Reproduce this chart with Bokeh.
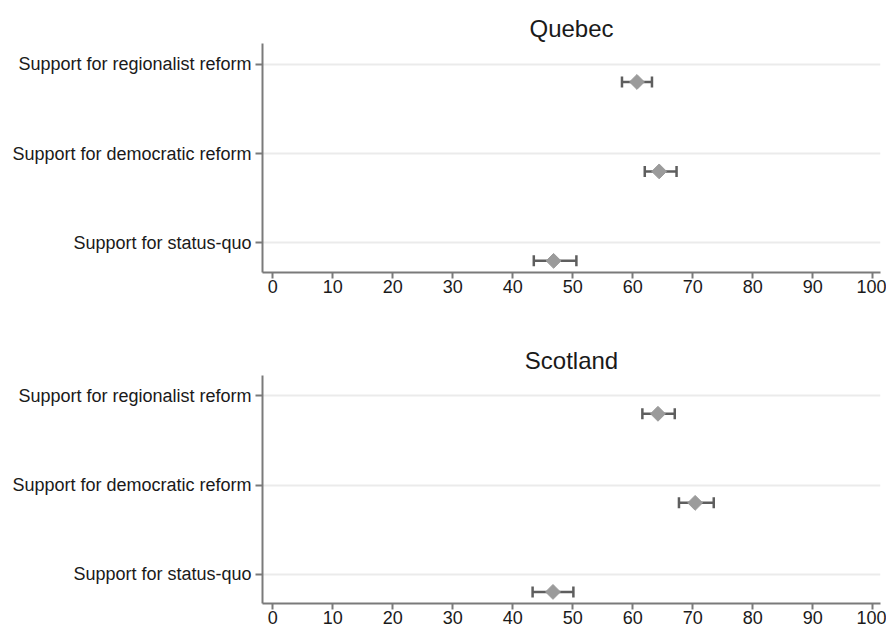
import math
from bokeh.plotting import figure
from bokeh.layouts import column
from bokeh.models import ColumnDataSource, Whisker, TeeHead, FixedTicker, Range1d
from bokeh.embed import file_html
from bokeh.resources import INLINE

# ---- data ----
categories = ["Support for regionalist reform",
              "Support for democratic reform",
              "Support for status-quo"]
quebec_mean = [60.7, 64.4, 46.8]
quebec_lo = [58.2, 62.0, 43.5]
quebec_hi = [63.2, 67.3, 50.6]
scotland_mean = [64.2, 70.4, 46.7]
scotland_lo = [61.6, 67.7, 43.3]
scotland_hi = [67.0, 73.5, 50.1]
x_ticks = [0, 10, 20, 30, 40, 50, 60, 70, 80, 90, 100]

FONT = "Liberation Sans"
TXT = "#1a1a1a"
AXIS = "#7a7a7a"
BAR = "#5e5e5e"
DOT = "#9b9b9b"
POINT_OFFSET = 0.2


def make_panel(title, means, los, his, height, top, frame_h):
    n = len(categories)
    tick_pos = [n - i for i in range(n)]
    src = ColumnDataSource(dict(
        y=[t - POINT_OFFSET for t in tick_pos],
        mean=means, lo=los, hi=his))
    p = figure(width=886, height=height, output_backend="svg",
               toolbar_location=None,
               x_range=Range1d(-1.73, 101.3), y_range=Range1d(0.67, 3.23),
               min_border_left=262, min_border_right=6,
               min_border_top=top,
               min_border_bottom=height - top - frame_h)
    p.outline_line_color = None
    p.background_fill_color = "white"
    p.border_fill_color = "white"

    p.title.text = title
    p.title.align = "center"
    p.title.text_font = FONT
    p.title.text_font_size = "24px"
    p.title.text_font_style = "normal"
    p.title.text_color = TXT
    p.title.standoff = 4

    p.xgrid.grid_line_color = None
    p.ygrid.grid_line_color = "#ebebeb"
    p.ygrid.grid_line_width = 2

    p.xaxis.ticker = FixedTicker(ticks=x_ticks)
    p.yaxis.ticker = FixedTicker(ticks=tick_pos)
    p.yaxis.major_label_overrides = {t: c for t, c in zip(tick_pos, categories)}
    for ax in (p.xaxis, p.yaxis):
        ax.axis_line_color = AXIS
        ax.axis_line_width = 2
        ax.major_tick_line_color = AXIS
        ax.major_tick_line_width = 2
        ax.minor_tick_line_color = None
        ax.major_tick_in = 0
        ax.major_label_text_font = FONT
        ax.major_label_text_font_size = "18px"
        ax.major_label_text_color = TXT
    p.xaxis.major_tick_out = 6
    p.xaxis.major_label_standoff = 1
    p.yaxis.major_tick_out = 7
    p.yaxis.major_label_standoff = 4

    w = Whisker(source=src, base="y", lower="lo", upper="hi",
                dimension="width", line_color=BAR, line_width=2.5,
                level="underlay",
                upper_head=TeeHead(size=11, line_color=BAR, line_width=2.5),
                lower_head=TeeHead(size=11, line_color=BAR, line_width=2.5))
    p.add_layout(w)
    p.scatter(x="mean", y="y", source=src, marker="square", size=10.5,
              angle=math.pi / 4, fill_color=DOT, line_color=DOT)
    return p


p1 = make_panel("Quebec", quebec_mean, quebec_lo, quebec_hi,
                height=335, top=43, frame_h=229)
p2 = make_panel("Scotland", scotland_mean, scotland_lo, scotland_hi,
                height=295, top=40, frame_h=228)

layout = column(p1, p2, spacing=0)
open("out.html", "w").write(file_html(layout, INLINE))
